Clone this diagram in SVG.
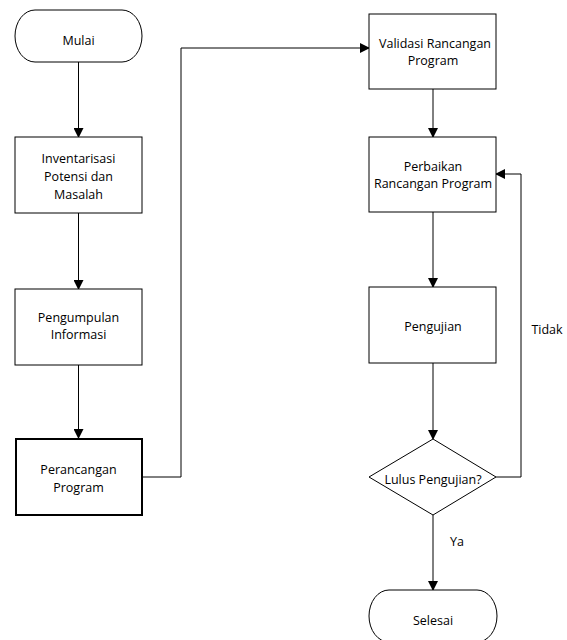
<svg xmlns="http://www.w3.org/2000/svg" width="567" height="640" viewBox="0 0 567 640">
<style>
.n{fill:#fff;stroke:#000;stroke-width:1}
.thick{stroke-width:2}
.t{font-family:"Open Sans","Noto Sans",sans-serif;font-size:12.5px;fill:#000;text-anchor:middle}
.c{fill:none;stroke:#000;stroke-width:1}
</style>
<defs>
<marker id="ah" markerWidth="10" markerHeight="10" refX="9" refY="5" orient="auto" markerUnits="userSpaceOnUse">
<path d="M0,0 L10,5 L0,10 z" fill="#000"/>
</marker>
</defs>
<rect width="567" height="640" fill="#fff"/>
<g id="connectors">
<line class="c" x1="78.5" y1="62" x2="78.5" y2="137" marker-end="url(#ah)"/>
<line class="c" x1="78.5" y1="213" x2="78.5" y2="289" marker-end="url(#ah)"/>
<line class="c" x1="78.5" y1="365" x2="78.5" y2="438" marker-end="url(#ah)"/>
<polyline class="c" points="142,477 181,477 181,48 369,48" marker-end="url(#ah)"/>
<line class="c" x1="433" y1="89" x2="433" y2="137" marker-end="url(#ah)"/>
<line class="c" x1="433" y1="212" x2="433" y2="287" marker-end="url(#ah)"/>
<line class="c" x1="433" y1="363" x2="433" y2="439" marker-end="url(#ah)"/>
<polyline class="c" points="496,477 521,477 521,174 496,174" marker-end="url(#ah)"/>
<line class="c" x1="433" y1="515" x2="433" y2="590" marker-end="url(#ah)"/>
<text class="t" x="547" y="334">Tidak</text>
<text class="t" x="457" y="546">Ya</text>
</g>
<g id="mulai">
<rect class="n" x="15" y="10" width="127" height="52" rx="20" ry="26"/>
<text class="t" x="78.5" y="45">Mulai</text>
</g>
<g id="inventarisasi">
<rect class="n" x="15" y="137" width="127" height="76"/>
<text class="t" x="78.5" y="163">Inventarisasi</text>
<text class="t" x="78.5" y="181">Potensi dan</text>
<text class="t" x="78.5" y="199">Masalah</text>
</g>
<g id="pengumpulan">
<rect class="n" x="15" y="289" width="127" height="76"/>
<text class="t" x="78.5" y="322">Pengumpulan</text>
<text class="t" x="78.5" y="339">Informasi</text>
</g>
<g id="perancangan">
<rect class="n thick" x="16" y="439" width="126" height="76"/>
<text class="t" x="78.5" y="474">Perancangan</text>
<text class="t" x="78.5" y="492">Program</text>
</g>
<g id="validasi">
<rect class="n" x="369" y="14" width="127" height="75"/>
<text class="t" x="435" y="48">Validasi Rancangan</text>
<text class="t" x="433" y="65">Program</text>
</g>
<g id="perbaikan">
<rect class="n" x="369" y="137" width="127" height="75"/>
<text class="t" x="433" y="171">Perbaikan</text>
<text class="t" x="433" y="188">Rancangan Program</text>
</g>
<g id="pengujian">
<rect class="n" x="369" y="287" width="127" height="76"/>
<text class="t" x="433" y="331">Pengujian</text>
</g>
<g id="lulus">
<polygon class="n" points="433,439 496,477 433,515 369,477"/>
<text class="t" x="433" y="484">Lulus Pengujian?</text>
</g>
<g id="selesai">
<rect class="n" x="369" y="590" width="128" height="52" rx="20" ry="26"/>
<text class="t" x="433" y="625">Selesai</text>
</g>
</svg>
